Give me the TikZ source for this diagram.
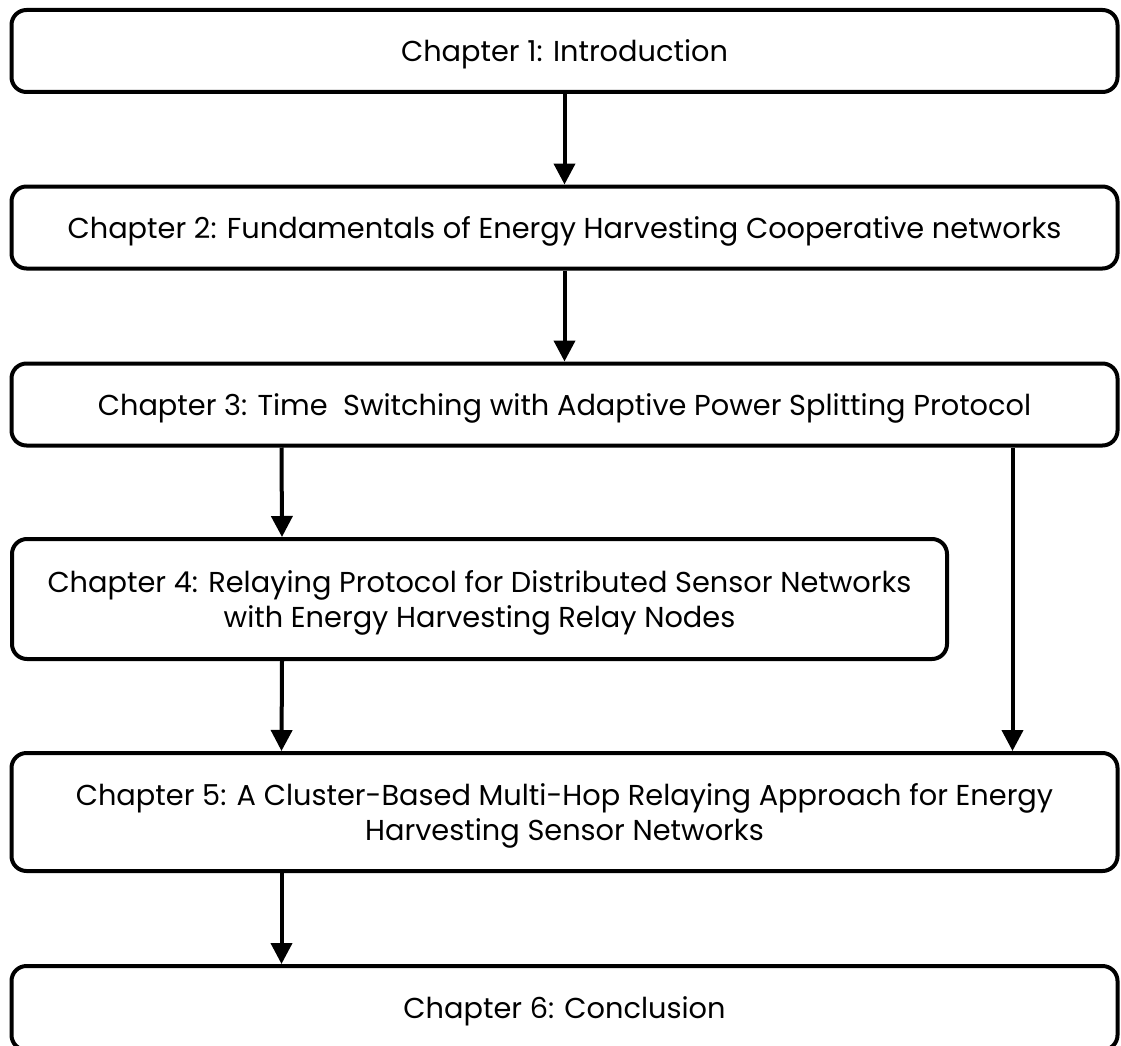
\documentclass[tikz,border=0pt]{standalone}
\usepackage{fontspec}
\setmainfont{Poppins}
\usetikzlibrary{arrows.meta}
\begin{document}
\begin{tikzpicture}[x=1pt,y=-1pt,
  chap/.style={draw, line width=4pt, rounded corners=15pt, minimum width=1106pt, minimum height=82pt, align=center, text depth=0pt, font=\fontsize{28.8}{35}\selectfont},
  flow/.style={-{Triangle[length=21pt,width=21pt]}, line width=4pt}]
\useasboundingbox (0,0) rectangle (1121,1046);
\node[chap] (ch1) at (564.5,51){Chapter 1: Introduction};
\node[chap] (ch2) at (564.5,227.5){Chapter 2: Fundamentals of Energy Harvesting Cooperative networks};
\node[chap] (ch3) at (564.5,404.5){Chapter 3: Time\ \ Switching with Adaptive Power Splitting Protocol};
\node[chap, minimum width=935pt, minimum height=120pt] (ch4) at (479.5,599){Chapter 4: Relaying Protocol for Distributed Sensor Networks\\with Energy Harvesting Relay Nodes};
\node[chap, minimum height=118pt] (ch5) at (564.5,812){Chapter 5: A Cluster-Based Multi-Hop Relaying Approach for Energy\\Harvesting Sensor Networks};
\node[chap, minimum height=84pt] (ch6) at (564.5,1008){Chapter 6: Conclusion};
\draw[flow](ch1) -- (ch2);
\draw[flow](ch2) -- (ch3);
\draw[flow]([xshift=272pt]ch3.south west) -- ([xshift=272pt]ch4.north west);
\draw[flow]([xshift=-107pt]ch3.south east) -- ([xshift=-107pt]ch5.north east);
\draw[flow]([xshift=272pt]ch4.south west) -- ([xshift=272pt]ch5.north west);
\draw[flow]([xshift=272pt]ch5.south west) -- ([xshift=272pt]ch6.north west);
\end{tikzpicture}
\end{document}
